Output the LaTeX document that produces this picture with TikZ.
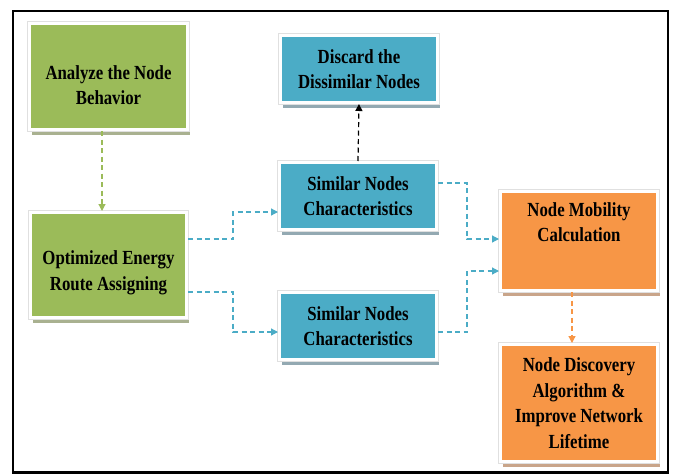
\documentclass[tikz,border=0pt]{standalone}
\usepackage{fontspec}
\setmainfont{Liberation Serif}[FakeStretch=0.84]
\usetikzlibrary{shadows,arrows.meta}

\definecolor{grn}{HTML}{9BBB59}
\definecolor{grnsh}{HTML}{A9B190}
\definecolor{blu}{HTML}{4BACC6}
\definecolor{blush}{HTML}{93A9B2}
\definecolor{org}{HTML}{F79646}
\definecolor{orgsh}{HTML}{C9A58A}

\tikzset{
  box/.style={inner sep=0pt, draw=white, line width=3pt, align=center,
    font=\fontsize{20}{25.5}\selectfont\bfseries, text=black,
    preaction={draw=black!12, line width=4.6pt}},
  gbox/.style={drop shadow={shadow xshift=2.5pt, shadow yshift=-5pt, fill=grnsh, opacity=1}, box, fill=grn},
  bbox/.style={drop shadow={shadow xshift=2.5pt, shadow yshift=-5pt, fill=blush, opacity=1}, box, fill=blu},
  obox/.style={drop shadow={shadow xshift=2.5pt, shadow yshift=-5pt, fill=orgsh, opacity=1}, box, fill=org},
  txt/.style={align=center, inner sep=0pt, font=\fontsize{20}{25.5}\selectfont\bfseries, text=black},
  conn/.style={line width=1.2pt, dash pattern=on 5pt off 3.5pt, -{Triangle[length=7pt,width=7pt]}},
}

\begin{document}
\begin{tikzpicture}[x=1pt, y=-1pt]
  \useasboundingbox (0,0) rectangle (674,474);
  % outer frame
  \draw[line width=2.5pt] (13,11) rectangle (668,472.5);

  % boxes
  \node[gbox, minimum width=158pt, minimum height=106pt] (an) at (108.5,76.5) {};
  \node[txt] (antxt) at (108.5,85) {Analyze the Node\\Behavior};

  \node[gbox, minimum width=156pt, minimum height=105pt] (opt) at (108.5,265) {};
  \node[txt] (opttxt) at (108.5,273) {Optimized Energy\\Route Assigning};

  \node[bbox, minimum width=157pt, minimum height=67pt] (dis) at (359,69) {Discard the\\Dissimilar Nodes};
  \node[bbox, minimum width=157pt, minimum height=67pt] (s1) at (358,196) {Similar Nodes\\Characteristics};
  \node[bbox, minimum width=157pt, minimum height=67pt] (s2) at (358,326) {Similar Nodes\\Characteristics};

  \node[obox, minimum width=157pt, minimum height=99pt] (mob) at (579,241) {};
  \node[txt, anchor=north] (mobtxt) at (579,202) {Node Mobility\\Calculation};

  \node[obox, minimum width=157pt, minimum height=117pt] (disc) at (579,403)
    {Node Discovery\\Algorithm \&\\Improve Network\\Lifetime};

  % connectors
  \draw[conn, grn] ([xshift=-6.5pt]an.south) -- ([xshift=-6.5pt]opt.north);
  \draw[conn, black] (s1.north) -- (dis.south);
  \draw[conn, blu] ([yshift=26pt]opt.east) -- ++(45,0) |- ([yshift=-16pt]s1.west);
  \draw[conn, blu] ([yshift=-27pt]opt.east) -- ++(45,0) |- ([yshift=-6pt]s2.west);
  \draw[conn, blu] ([yshift=13pt]s1.east) -- ++(29,0) |- ([yshift=2pt]mob.west);
  \draw[conn, blu] ([yshift=-6pt]s2.east) -- ++(29,0) |- ([yshift=-30pt]mob.west);
  \draw[conn, org] ([xshift=-7pt]mob.south) -- ([xshift=-7pt]disc.north);
\end{tikzpicture}
\end{document}
